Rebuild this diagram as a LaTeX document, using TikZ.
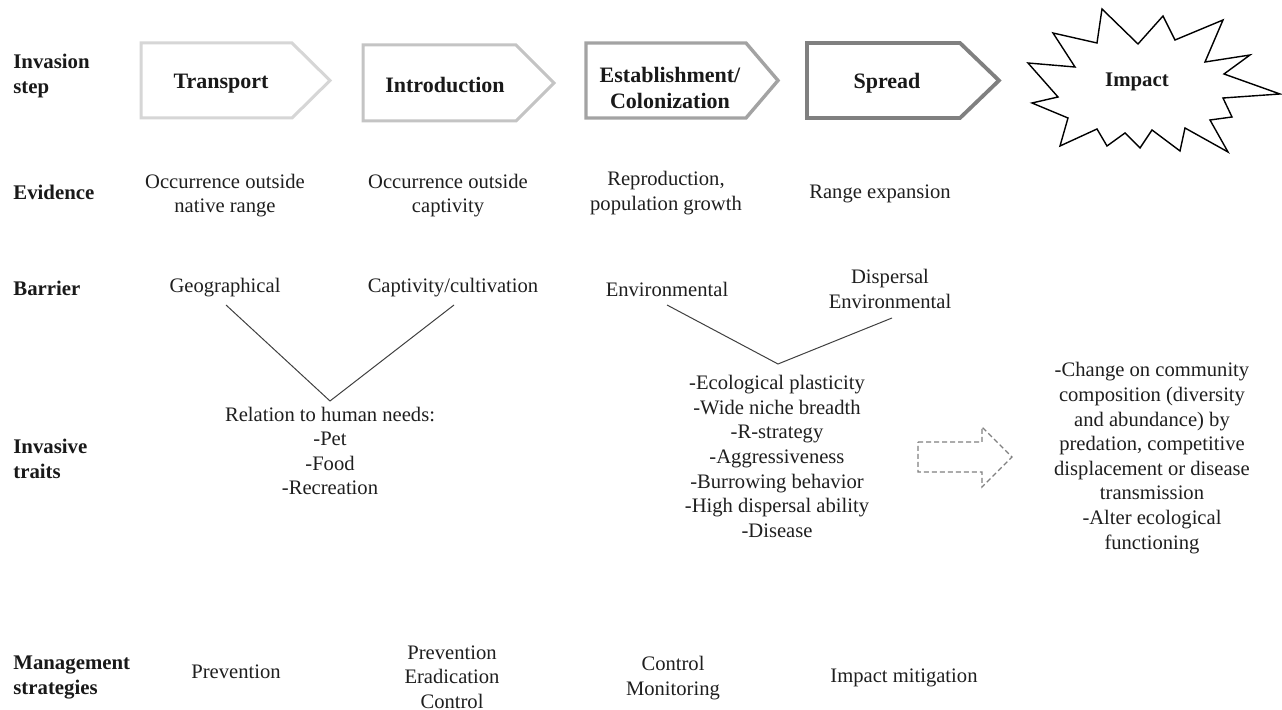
\documentclass[tikz,border=0pt]{standalone}
\usepackage{fontspec}
\setmainfont{Liberation Serif}
\begin{document}
\begin{tikzpicture}[x=0.5pt,y=-0.5pt,
  txt/.style={font=\fontsize{10.3}{12.3}\selectfont, align=center, text=black!88, inner sep=0pt},
  rowlbl/.style={font=\bfseries\fontsize{10.4}{12.5}\selectfont, align=left, anchor=west, inner sep=0pt, text=black!90},
  steptxt/.style={font=\bfseries\fontsize{11}{12.6}\selectfont, align=center, inner sep=0pt, text=black!90},
  stepshape/.style={line width=1.5pt, line join=miter, fill=white},
  vline/.style={line width=0.5pt, draw=black!75},
  dasharr/.style={line width=0.6pt, draw=black!50, dash pattern=on 2.5pt off 1.5pt}
]
\useasboundingbox (0,0) rectangle (1282,710);
\fill[white] (0,0) rectangle (1282,710);

% row labels
\node[rowlbl] (L1) at (13,76) {Invasion\\step};
\node[rowlbl] (L2) at (13,192) {Evidence};
\node[rowlbl] (L3) at (13,288) {Barrier};
\node[rowlbl] (L4) at (13,459) {Invasive\\traits};
\node[rowlbl] (L5) at (13,677) {Management\\strategies};

% invasion steps
\draw[stepshape, draw=black!16] (141,43) -- (292,43) -- (330,80.5) -- (292,118) -- (141,118) -- cycle;
\draw[stepshape, draw=black!23] (363,45) -- (516,45) -- (554,83) -- (516,121) -- (363,121) -- cycle;
\draw[stepshape, draw=black!36, line width=1.7pt] (586,43) -- (746,43) -- (778,80.5) -- (746,118) -- (586,118) -- cycle;
\draw[stepshape, draw=black!50, line width=1.9pt] (807,43) -- (960,43) -- (999,80.5) -- (960,118) -- (807,118) -- cycle;
\draw[line width=0.7pt, fill=white, line join=miter]
  (1102,9) -- (1138,44) -- (1163,16) -- (1175,40) -- (1223,20) -- (1205,62) -- (1250,55) -- (1224,74)
  -- (1280,94) -- (1223,98) -- (1232,117) -- (1210,120) -- (1228,152) -- (1185,128) -- (1180,151)
  -- (1152,130) -- (1140,148) -- (1125,133) -- (1107,146) -- (1097,129) -- (1060,146) -- (1068,118)
  -- (1032,103) -- (1058,97) -- (1028,63) -- (1075,67) -- (1053,33) -- (1097,43) -- cycle;

\node[steptxt] (s1) at (221,84) {Transport};
\node[steptxt] (s2) at (445,85) {Introduction};
\node[steptxt] (s3) at (670,88) {Establishment/\\Colonization};
\node[steptxt] (s4) at (887,83) {Spread};
\node[steptxt, font=\bfseries\fontsize{10.4}{12.6}\selectfont] (s5) at (1137,82) {Impact};

% evidence
\node[txt] (e1) at (225,195.5) {Occurrence outside\\native range};
\node[txt] (e2) at (448,195.5) {Occurrence outside\\captivity};
\node[txt] (e3) at (666,193) {Reproduction,\\population growth};
\node[txt] (e4) at (880,194) {Range expansion};

% barrier
\node[txt] (b1) at (225,288) {Geographical};
\node[txt] (b2) at (453,288) {Captivity/cultivation};
\node[txt] (b3) at (667,289) {Environmental};
\node[txt] (b4) at (890,289) {Dispersal\\Environmental};

\coordinate (va) at (226,305);
\coordinate (vb) at (330,401);
\coordinate (vc) at (454,305);
\coordinate (vd) at (667,305);
\coordinate (ve) at (778,364);
\coordinate (vf) at (892,318);
\draw[vline] (va) -- (vb) -- (vc);
\draw[vline] (vd) -- (ve) -- (vf);

% invasive traits
\node[txt] (r1) at (330,451) {Relation to human needs:\\-Pet\\-Food\\-Recreation};
\node[txt] (r2) at (777,456.5) {-Ecological plasticity\\-Wide niche breadth\\-R-strategy\\-Aggressiveness\\-Burrowing behavior\\-High dispersal ability\\-Disease};
\node[txt] (r3) at (1152,458) {-Change on community\\composition (diversity\\and abundance) by\\predation, competitive\\displacement or disease\\transmission\\-Alter ecological\\functioning};

\draw[dasharr] (918,442) -- (982,442) -- (982,427) -- (1012,457) -- (982,487) -- (982,472) -- (918,472) -- cycle;

% management
\node[txt] (m1) at (236,672) {Prevention};
\node[txt] (m2) at (452,677) {Prevention\\Eradication\\Control};
\node[txt] (m3) at (673,678) {Control\\Monitoring};
\node[txt] (m4) at (904,678) {Impact mitigation};
\end{tikzpicture}
\end{document}
